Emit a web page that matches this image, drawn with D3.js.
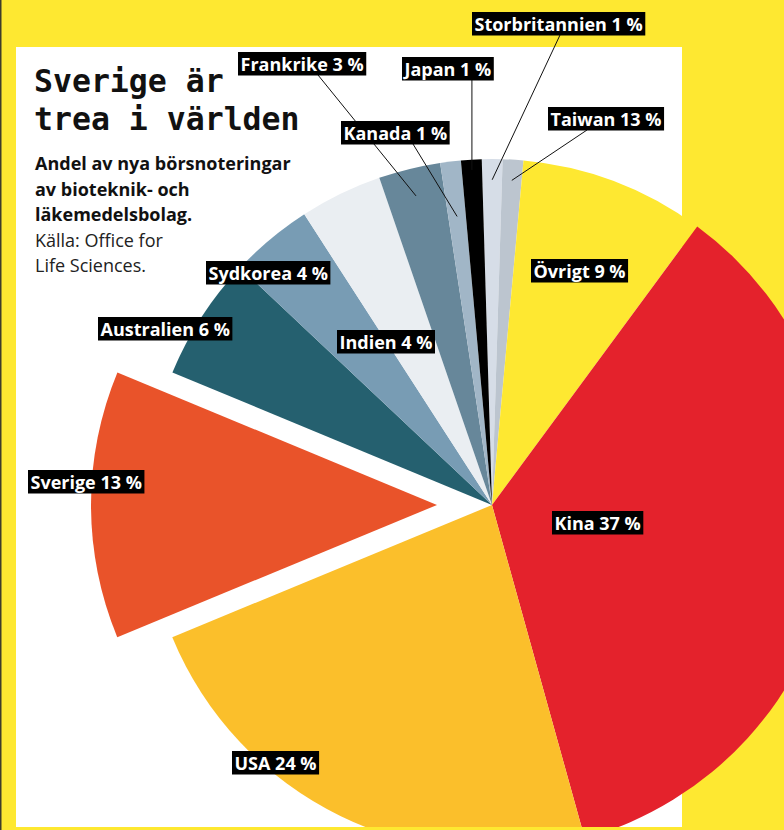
<!DOCTYPE html>
<html>
<head>
<meta charset="utf-8">
<script src="https://cdn.jsdelivr.net/npm/d3@7"></script>
<style>
  body { margin: 0; background: #fee831; }
  svg { display: block; }
</style>
</head>
<body>
<div id="chart"></div>
<script>
//* data (clockwise from the top)
var countries = ["Storbritannien", "Taiwan", "Övrigt", "Kina", "USA", "Sverige", "Australien", "Sydkorea", "Indien", "Frankrike", "Kanada", "Japan"]
var shares = [1, 1, 9, 37, 24, 13, 6, 4, 4, 3, 1, 1]          // slice sizes
var printedPct = [1, 13, 9, 37, 24, 13, 6, 4, 4, 3, 1, 1]     // what the labels say (Taiwan says 13)
var titleLines = ["Sverige är", "trea i världen"]
var subLines = ["Andel av nya börsnoteringar", "av bioteknik- och", "läkemedelsbolag."]
var sourceLines = ["Källa: Office for", "Life Sciences."]

//* styles
var sliceColors = ["#d6dde7", "#bcc5cf", "#fee831", "#e4222c", "#fbbf2b", "#e9532a", "#25606f", "#789cb4", "#eaeef2", "#67879a", "#a1b6c7", "#000000"]
var color = d3.scaleOrdinal().domain(countries).range(sliceColors)
var W = 784, H = 830
var cx = 492, cy = 505, R = 346
var explode = {"Sverige": 55}

//? box = top-left corner of the black tag, lx = where the leader leaves the tag, lr = leader end (fraction of R)
var tagLayout = {
    "Storbritannien": {x: 472, y: 12, lx: 560, lr: 0.94},
    "Taiwan": {x: 548, y: 107, lx: 587, lr: 0.94},
    "Övrigt": {x: 531, y: 259},
    "Kina": {x: 552, y: 511},
    "USA": {x: 232, y: 751},
    "Sverige": {x: 28, y: 470},
    "Australien": {x: 98, y: 317},
    "Sydkorea": {x: 206, y: 261},
    "Indien": {x: 337, y: 330},
    "Frankrike": {x: 238, y: 52, lx: 318, lr: 0.92},
    "Kanada": {x: 341, y: 121, lx: 413, lr: 0.84},
    "Japan": {x: 402, y: 57, lx: null, lr: 0.97}
}

var svg = d3.select("#chart").append("svg").attr("width", W).attr("height", H)

// background + white panel
svg.append("rect").attr("width", W).attr("height", H).attr("fill", "#fee831")
svg.append("rect").attr("x", 0).attr("y", 0).attr("width", 1.5).attr("height", H).attr("fill", "#3f3c2a")
svg.append("rect").attr("x", 16).attr("y", 47).attr("width", 666).attr("height", 780).attr("fill", "#ffffff")

svg.append("clipPath").attr("id", "pieclip")
    .append("rect").attr("x", 0).attr("y", 0).attr("width", W).attr("height", 827)

var table = countries.map(function(c, i) { return {name: c, value: shares[i], pct: printedPct[i]} })

var a0 = -1.7 * Math.PI / 180
var pie = d3.pie().sort(null).value(function(d) { return d.value }).startAngle(a0).endAngle(a0 + 2 * Math.PI)
var arc = d3.arc().innerRadius(0).outerRadius(R)
var arcs = pie(table)

function offsetOf(d) {
    var off = explode[d.data.name] || 0
    var mid = (d.startAngle + d.endAngle) / 2
    return [Math.sin(mid) * off, -Math.cos(mid) * off]
}

var gPie = svg.append("g").attr("clip-path", "url(#pieclip)")
    .append("g").attr("transform", "translate(" + cx + "," + cy + ")")

gPie.selectAll("path").data(arcs).enter().append("path")
    .attr("d", arc)
    .attr("fill", function(d) { return color(d.data.name) })
    .attr("transform", function(d) { var o = offsetOf(d); return "translate(" + o[0] + "," + o[1] + ")" })

//* title block
var titleFont = "'DejaVu Sans Mono', 'Liberation Mono', monospace"
var bodyFont = "'Open Sans', 'Noto Sans', sans-serif"

svg.append("g").selectAll("text").data(titleLines).enter().append("text")
    .attr("x", 34).attr("y", function(d, i) { return 92 + i * 37.5 })
    .style("font-family", titleFont).style("font-weight", "bold").style("font-size", "31.5px")
    .attr("fill", "#111").text(function(d) { return d })

svg.append("g").selectAll("text").data(subLines).enter().append("text")
    .attr("x", 35).attr("y", function(d, i) { return 170 + i * 25.5 })
    .style("font-family", bodyFont).style("font-weight", "bold").style("font-size", "18px")
    .attr("fill", "#111").text(function(d) { return d })

svg.append("g").selectAll("text").data(sourceLines).enter().append("text")
    .attr("x", 35).attr("y", function(d, i) { return 247 + i * 25 })
    .style("font-family", bodyFont).style("font-size", "18px")
    .attr("fill", "#222").text(function(d) { return d })

//* leader lines (drawn before tags)
var gLead = svg.append("g")
arcs.forEach(function(d) {
    var t = tagLayout[d.data.name]
    if (t.lr === undefined) return
    var mid = (d.startAngle + d.endAngle) / 2
    var ex = cx + Math.sin(mid) * R * t.lr
    var ey = cy - Math.cos(mid) * R * t.lr
    var sx = t.lx === null ? ex : t.lx
    gLead.append("line")
        .attr("x1", sx).attr("y1", t.y + 23)
        .attr("x2", ex).attr("y2", ey)
        .attr("stroke", "#111").attr("stroke-width", 1)
})

//* tags
var gTags = svg.append("g")
arcs.forEach(function(d) {
    var t = tagLayout[d.data.name]
    var g = gTags.append("g").attr("transform", "translate(" + t.x + "," + t.y + ")")
    var bg = g.append("rect").attr("height", 23.5).attr("fill", "#000")
    var txt = g.append("text").attr("x", 2.5).attr("y", 19)
        .style("font-family", bodyFont).style("font-weight", "bold").style("font-size", "18px")
        .attr("fill", "#fff")
        .text(d.data.name + " " + d.data.pct + " %")
    bg.attr("width", txt.node().getComputedTextLength() + 5)
})
</script>
</body>
</html>
